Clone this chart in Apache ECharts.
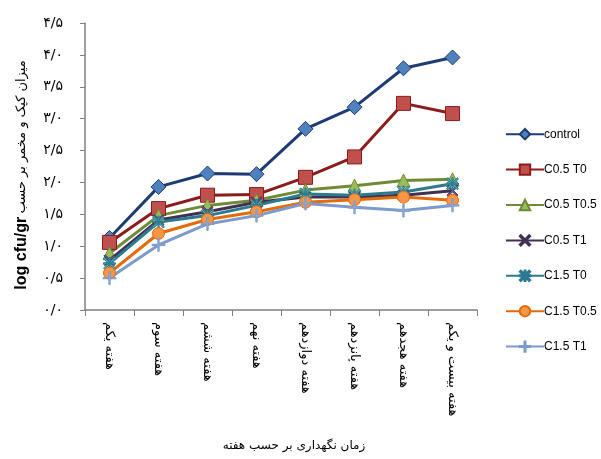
<!DOCTYPE html>
<html><head><meta charset="utf-8">
<script src="https://cdn.jsdelivr.net/npm/echarts@6/dist/echarts.min.js"></script>
<style>html,body{margin:0;padding:0;background:#fff}#c{width:601px;height:459px}</style>
</head><body><div id="c"></div>
<script>
var categories = ['هفته یکم','هفته سوم','هفته ششم','هفته نهم','هفته دوازدهم','هفته پانزدهم','هفته هجدهم','هفته بیست و یکم'];
var yTickLabels = ['۰/۰','۰/۵','۱/۰','۱/۵','۲/۰','۲/۵','۳/۰','۳/۵','۴/۰','۴/۵'];
var control   = [1.13, 1.93, 2.14, 2.13, 2.84, 3.18, 3.79, 3.96];
var c05t0     = [1.06, 1.59, 1.80, 1.81, 2.08, 2.40, 3.24, 3.08];
var c05t05    = [0.89, 1.48, 1.64, 1.72, 1.88, 1.95, 2.03, 2.05];
var c05t1     = [0.78, 1.41, 1.54, 1.69, 1.77, 1.77, 1.80, 1.87];
var c15t0     = [0.73, 1.38, 1.48, 1.64, 1.82, 1.80, 1.85, 1.98];
var c15t05    = [0.58, 1.20, 1.42, 1.54, 1.69, 1.73, 1.77, 1.72];
var c15t1     = [0.50, 1.02, 1.35, 1.48, 1.67, 1.61, 1.56, 1.64];
var xTitle = 'زمان نگهداری بر حسب هفته';
var yTitleLatin = 'log cfu/gr';
var yTitleFa = 'میزان کپک و مخمر بر حسب';

var X = 'path://M0,2 L2,0 L10,8 L18,0 L20,2 L12,10 L20,18 L18,20 L10,12 L2,20 L0,18 L8,10 Z';
var PLUS = 'path://M9,0 L11,0 L11,9 L20,9 L20,11 L11,11 L11,20 L9,20 L9,11 L0,11 L0,9 L9,9 Z';
var STAR = 'path://M0,2 L2,0 L10,8 L18,0 L20,2 L12,10 L20,18 L18,20 L10,12 L2,20 L0,18 L8,10 Z M9,0 L11,0 L11,20 L9,20 Z M0,9 L20,9 L20,11 L0,11 Z';

function s(name, data, line, fill, symbol, size, border) {
  return {
    name: name, type: 'line', data: data, symbol: symbol, symbolSize: size,
    lineStyle: {color: line, width: 3},
    itemStyle: {color: fill, borderColor: border || line, borderWidth: 1},
    emphasis: {disabled: true}
  };
}
var chart = echarts.init(document.getElementById('c'));
chart.setOption({
  animation: false,
  grid: {left: 85, right: 124, top: 23, bottom: 149, containLabel: false},
  legend: {
    orient: 'vertical', left: 500, top: 123, itemWidth: 38, itemHeight: 13, itemGap: 23,
    textStyle: {fontFamily: 'Liberation Sans Narrow, Arial Narrow, sans-serif', fontSize: 12, color: '#000', padding: [0,0,0,-5]},
    data: ['control','C0.5 T0','C0.5 T0.5','C0.5 T1','C1.5 T0','C1.5 T0.5','C1.5 T1']
  },
  xAxis: {
    type: 'category', data: categories, boundaryGap: true,
    axisLine: {lineStyle: {color: '#808080', width: 1.5}},
    axisTick: {show: true, length: 6, lineStyle: {color: '#808080'}},
    axisLabel: {rotate: -90, color: '#000', fontFamily: 'DejaVu Sans', fontSize: 13, margin: 12, interval: 0}
  },
  yAxis: {
    type: 'value', min: 0, max: 4.5, interval: 0.5,
    splitLine: {show: false},
    axisLine: {show: true, lineStyle: {color: '#808080', width: 1.5}},
    axisTick: {show: true, length: 5, lineStyle: {color: '#808080'}},
    axisLabel: {color: '#000', fontFamily: 'DejaVu Sans', fontSize: 14, margin: 22,
      formatter: function (v) { return yTickLabels[Math.round(v / 0.5)]; }}
  },
  graphic: [
    {type: 'text', x: 294, y: 446, style: {text: xTitle, font: '12px DejaVu Sans', fill: '#000', align: 'center', verticalAlign: 'middle'}},
    {type: 'text', x: 22, y: 175, rotation: Math.PI / 2,
      style: {text: '{a|' + yTitleLatin + '} {b|' + yTitleFa + '}', align: 'center', verticalAlign: 'middle',
        rich: {a: {font: 'bold 16px Liberation Sans, Arial', fill: '#000'}, b: {font: '13px DejaVu Sans', fill: '#000'}}}}
  ],
  series: [
    s('control', control, '#1F3B73', '#4F81BD', 'diamond', 15, '#1F3B73'),
    s('C0.5 T0', c05t0, '#8B1C1C', '#C0504D', 'rect', 14, '#8B1C1C'),
    s('C0.5 T0.5', c05t05, '#6E8B35', '#9BBB59', 'triangle', 13, '#6E8B35'),
    s('C0.5 T1', c05t1, '#403152', '#6F5A9A', X, 11),
    s('C1.5 T0', c15t0, '#2B7A8F', '#4BACC6', STAR, 12),
    s('C1.5 T0.5', c15t05, '#E36C0A', '#F79646', 'circle', 12, '#E36C0A'),
    s('C1.5 T1', c15t1, '#7C9ACC', '#95B3D7', PLUS, 13)
  ]
});
</script></body></html>
